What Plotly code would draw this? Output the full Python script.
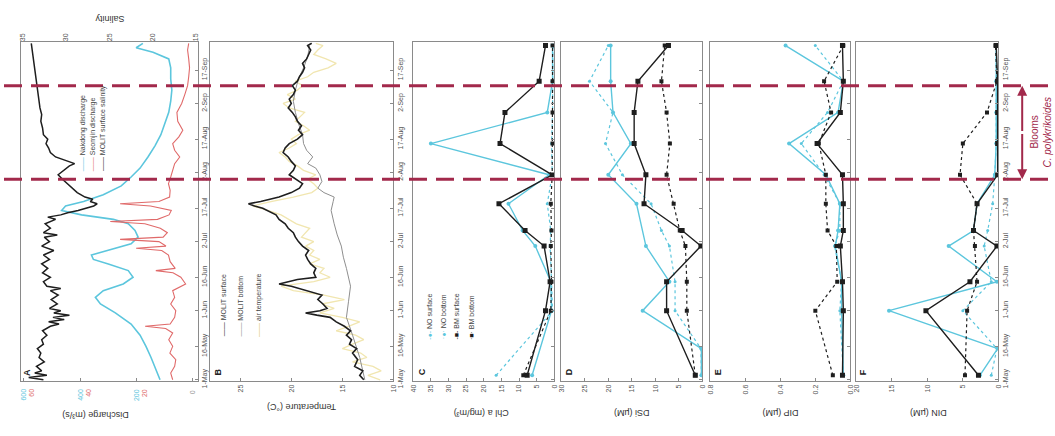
import pandas as pd
import plotly.graph_objects as go

W, H = 1055, 436
START = pd.Timestamp("2015-05-01")


def to_dates(days):
    return [START + pd.Timedelta(days=d) for d in days]


# ---------------- Panel A: river discharge and surface salinity ----------------
cyan_q_days = [0, 5, 10, 15, 20, 25, 30, 34, 37, 40, 43, 46, 49, 52, 54, 56, 58, 61, 64, 67,
               70, 72, 74, 76, 78, 80, 83, 87, 91, 95, 100, 105, 110, 115, 120, 125, 130, 135,
               140, 144, 147, 149, 151]
cyan_q = [116, 131, 148, 166, 187, 219, 275, 328, 346, 318, 247, 212, 229, 300, 353, 360, 300,
          219, 194, 205, 229, 282, 395, 466, 452, 388, 318, 254, 219, 187, 159, 134, 113, 99,
          85, 78, 74, 78, 78, 85, 141, 201, 177]

red_q_days = [0, 3, 6, 9, 12, 15, 18, 21, 23, 24, 25, 28, 31, 34, 37, 40, 43, 46, 48, 49, 50,
              53, 56, 58, 59, 60, 62, 63, 64, 66, 68, 70, 71, 72, 74, 76, 78, 79, 80, 82, 85,
              88, 91, 94, 97, 100, 103, 106, 109, 112, 116, 120, 124, 128, 132, 136, 140, 144,
              148, 151]
red_q = [7.1, 7.8, 6.4, 6.0, 8.1, 7.1, 8.5, 7.1, 9.6, 16.9, 8.0, 6.4, 6.0, 7.8, 6.4, 7.1, 2.5,
         4.2, 7.0, 13.1, 6.2, 8.0, 8.6, 11.0, 20.1, 9.5, 12.0, 25.8, 10.5, 9.0, 11.5, 17.0,
         29.3, 12.5, 8.4, 7.6, 15.0, 25.8, 12.0, 8.2, 8.0, 8.6, 7.8, 7.1, 6.4, 4.6, 6.4,
         7.1, 4.9, 3.5, 5.3, 5.6, 3.9, 2.8, 1.8, 1.4, 1.1, 1.4, 1.8, 1.4]

sal_days = [0, 1, 2, 3, 4, 6, 8, 10, 12, 14, 16, 18, 20, 22, 24, 25, 26, 27, 28, 29, 30, 31, 32,
            34, 36, 38, 40, 41, 42, 44, 46, 48, 50, 52, 54, 56, 58, 60, 62, 64, 65, 66, 68, 70,
            72, 73, 74, 75, 76, 77, 78, 79, 80, 81, 82, 84, 86, 88, 90, 92, 94, 96, 97, 98, 99,
            100, 102, 104, 106, 108, 110, 113, 116, 119, 122, 125, 128, 131, 134, 137, 140,
            143, 146, 149, 151]
salinity = [32.6, 34.3, 32.2, 33.6, 32.8, 33.4, 32.5, 33.1, 32.9, 33.3, 32.6, 32.8, 32.2, 32.7,
            31.8, 30.8, 32.0, 30.2, 31.5, 29.6, 31.4, 30.6, 31.9, 31.0, 31.7, 30.9, 31.8, 30.6,
            32.2, 32.6, 31.8, 32.7, 32.1, 32.8, 31.9, 32.6, 31.4, 32.8, 31.9, 32.5, 31.0, 32.6,
            31.8, 32.4, 31.2, 32.1, 30.6, 29.8, 28.6, 27.6, 26.8, 26.4, 27.2, 26.9, 27.8, 28.7,
            29.3, 29.8, 30.4, 30.9, 30.2, 29.6, 29.0, 29.8, 30.6, 31.2, 31.8, 32.0, 32.3, 32.1,
            32.6, 32.7, 32.9, 32.8, 33.0, 33.1, 33.2, 33.3, 33.4, 33.5, 33.6, 33.7, 33.8, 33.9,
            34.0]

cyan_q_ticks = [600, 400, 200]
red_q_ticks = [60, 40, 20]
salinity_ticks = [35, 30, 25, 20, 15]

# ---------------- Panel B: water and air temperature ----------------
ts_days = [0, 2, 4, 6, 9, 12, 14, 16, 18, 20, 22, 24, 26, 28, 29, 30, 31, 32, 34, 36, 38, 40,
           42, 43, 44, 45, 46, 48, 50, 52, 54, 56, 58, 60, 62, 64, 66, 68, 70, 72, 74, 76, 77,
           78, 79, 80, 81, 82, 84, 86, 88, 90, 92, 94, 96, 98, 100, 102, 104, 106, 108, 110,
           112, 114, 116, 118, 120, 122, 124, 126, 128, 130, 132, 134, 136, 138, 140, 142, 144,
           146, 148, 150, 151]
temp_surface = [12.9, 13.3, 13.0, 13.8, 13.5, 14.0, 13.6, 14.3, 14.1, 14.6, 14.2, 14.8, 15.6,
                16.2, 17.5, 18.6, 17.2, 16.5, 16.9, 17.4, 17.0, 18.4, 20.0, 21.2, 20.4, 19.4,
                17.6, 17.8, 17.6, 18.1, 18.4, 18.6, 18.3, 18.9, 19.3, 19.6, 19.8, 20.3, 20.6,
                21.2, 21.5, 22.3, 22.8, 23.6, 24.2, 23.0, 22.0, 21.2, 20.0, 19.2, 18.9, 19.5,
                20.2, 19.8, 19.6, 20.0, 20.3, 20.8, 20.6, 20.2, 19.4, 18.9, 19.3, 19.0, 19.4,
                19.6, 19.9, 20.3, 20.0, 20.2, 19.8, 19.6, 19.9, 19.4, 19.2, 18.9, 18.7, 18.9,
                18.5, 18.3, 18.1, 18.4, 18.0]

tb_days = [0, 10, 20, 28, 35, 42, 50, 55, 60, 65, 70, 76, 80, 82, 84, 86, 89, 92, 95, 97, 100,
           103, 106, 110, 115, 120, 125, 130, 135, 140, 145, 150]
temp_bottom = [12.8, 13.3, 14.0, 14.6, 14.4, 14.2, 14.6, 14.9, 15.1, 15.5, 15.8, 16.1, 15.9,
               15.8, 16.8, 17.4, 17.0, 17.2, 17.6, 18.4, 17.9, 18.5, 18.8, 18.9, 19.3, 19.6,
               19.8, 19.6, 19.3, 18.8, 18.4, 18.2]

ta_days = [0, 2, 4, 6, 8, 10, 12, 14, 16, 18, 20, 22, 24, 26, 28, 30, 32, 34, 36, 38, 40, 42,
           44, 46, 48, 50, 52, 54, 56, 58, 60, 62, 64, 66, 68, 70, 72, 74, 76, 78, 80, 82, 84,
           86, 88, 90, 92, 94, 96, 98, 100, 102, 104, 106, 108, 110, 112, 114, 116, 118, 120,
           122, 124, 126, 128, 130, 132, 134, 136, 138, 140, 142, 144, 146, 148, 150, 151]
temp_air = [11.3, 12.5, 11.2, 12.0, 14.0, 12.6, 13.2, 15.0, 14.0, 12.9, 13.7, 15.6, 14.4, 13.3,
            15.0, 17.2, 15.8, 17.0, 14.8, 16.8, 19.8, 21.0, 17.8, 16.2, 17.2, 16.8, 18.2, 17.2,
            18.2, 17.8, 18.6, 17.8, 19.0, 18.6, 18.2, 19.5, 20.2, 21.0, 22.3, 23.8, 22.0, 19.8,
            18.0, 17.4, 17.8, 18.4, 17.6, 18.8, 19.4, 20.2, 20.6, 21.2, 20.2, 19.5, 20.0, 19.3,
            18.2, 18.8, 19.6, 19.1, 18.7, 20.2, 20.8, 19.6, 20.4, 19.4, 18.9, 19.6, 18.4, 17.8,
            16.4, 15.6, 16.6, 17.8, 17.4, 16.9, 17.6]

temp_ticks = [25, 20, 15, 10]

# ---------------- Panels C-F: station samples ----------------
sample_days = [2, 14, 31, 44, 60, 67, 79, 92, 106, 120, 134, 150]

chl = {
    "NO surface": [6.3, None, 0.8, 1.0, 5.4, 9.0, 13.0, 1.5, 35.0, 2.0, 0.5, 0.5],
    "NO bottom": [16.5, None, 0.5, 0.8, 1.2, 1.0, 2.0, 0.6, 0.8, 0.5, 0.5, 0.4],
    "BM surface": [7.7, None, 2.5, 1.2, 2.9, 8.3, 15.7, 0.6, 15.4, 14.0, 4.3, 2.5],
    "BM bottom": [8.8, None, 1.0, 0.8, 1.0, 0.8, 1.0, 0.6, 0.5, 0.5, 0.5, 0.5],
}
dsi = {
    "NO surface": [0.2, 0.2, 12.7, 7.0, 12.0, None, 14.0, 20.0, 15.2, 19.0, 19.5, 19.5],
    "NO bottom": [0.2, 0.3, 5.8, 5.8, 7.0, 8.7, 10.9, 17.0, 20.6, 19.0, 24.0, 20.0],
    "BM surface": [1.5, None, 7.6, 7.6, 0.3, 4.3, 12.4, 12.0, 14.5, 14.5, 13.7, 7.2],
    "BM bottom": [1.5, None, 3.3, 3.3, 3.6, 4.8, 6.1, 7.6, 6.9, 7.6, 8.7, 8.0],
}
dip = {
    "NO surface": [0.04, None, 0.05, 0.05, 0.086, 0.07, 0.06, 0.14, 0.35, 0.07, 0.04, 0.37],
    "NO bottom": [0.04, None, 0.06, 0.05, 0.09, 0.06, 0.06, 0.15, 0.28, 0.13, 0.04, 0.2],
    "BM surface": [0.045, None, 0.04, 0.045, 0.057, 0.04, 0.04, 0.045, 0.19, 0.057, 0.04, 0.045],
    "BM bottom": [0.1, None, 0.2, 0.075, 0.08, 0.13, 0.14, 0.14, 0.18, 0.11, 0.15, 0.04],
}
din = {
    "NO surface": [2.6, 0.1, 15.4, 0.2, 7.0, 3.5, 3.0, 0.5, 0.3, 0.3, 0.3, 0.3],
    "NO bottom": [1.0, 0.2, 5.0, 1.0, 2.0, 1.5, 0.8, 0.5, 0.3, 0.3, 0.3, 0.3],
    "BM surface": [2.8, None, 10.2, 4.0, 0.2, 3.5, 3.0, 0.1, 0.1, 0.1, 0.1, 0.3],
    "BM bottom": [4.7, None, 4.4, 3.0, 3.3, 3.5, 3.0, 5.4, 5.0, 1.6, 0.2, 0.4],
}

date_ticks = ["2015-05-01", "2015-05-16", "2015-06-01", "2015-06-16", "2015-07-02",
              "2015-07-17", "2015-08-02", "2015-08-17", "2015-09-02", "2015-09-17"]
date_labels = ["1-May", "16-May", "1-Jun", "16-Jun", "2-Jul", "17-Jul", "2-Aug", "17-Aug",
               "2-Sep", "17-Sep"]
bloom_start, bloom_end = "2015-07-30", "2015-09-10"

# ---------------- styling ----------------
CYAN = "#5cc6dd"
RED = "#e06a6a"
BLACK = "#1e1e1e"
GRAY = "#8e8e8e"
YELLOW = "#f1e6b0"
DASH = "#a2294b"
TICKC = "#555555"
FONT = "Liberation Sans"

series_style = {
    "NO surface": dict(color=CYAN, dash="solid", symbol="circle", size=4, width=1.4),
    "NO bottom": dict(color=CYAN, dash="dot", symbol="circle", size=3, width=1.2),
    "BM surface": dict(color=BLACK, dash="solid", symbol="square", size=5, width=1.4),
    "BM bottom": dict(color=BLACK, dash="dot", symbol="square", size=4, width=1.2),
}


def px_x(p):
    return p / W


def px_y(p):
    return 1 - p / H


TOP, BOTTOM = 43, 388
ydom = [px_y(BOTTOM), px_y(TOP)]
domains = {
    1: [px_x(17), px_x(195)],
    2: [px_x(207), px_x(392)],
    3: [px_x(412), px_x(554)],
    4: [px_x(561), px_x(703)],
    5: [px_x(711), px_x(852)],
    6: [px_x(858), px_x(1001)],
}

fig = go.Figure()

# Panel A traces
fig.add_trace(go.Scatter(x=cyan_q, y=to_dates(cyan_q_days), mode="lines",
                         line=dict(color=CYAN, width=1.6), xaxis="x", yaxis="y"))
fig.add_trace(go.Scatter(x=red_q, y=to_dates(red_q_days), mode="lines",
                         line=dict(color=RED, width=1.1), xaxis="x7", yaxis="y"))
fig.add_trace(go.Scatter(x=salinity, y=to_dates(sal_days), mode="lines",
                         line=dict(color=BLACK, width=1.5), xaxis="x8", yaxis="y"))

# Panel B traces
fig.add_trace(go.Scatter(x=temp_air, y=to_dates(ta_days), mode="lines",
                         line=dict(color=YELLOW, width=1.3), xaxis="x2", yaxis="y2"))
fig.add_trace(go.Scatter(x=temp_bottom, y=to_dates(tb_days), mode="lines",
                         line=dict(color=GRAY, width=1), xaxis="x2", yaxis="y2"))
fig.add_trace(go.Scatter(x=temp_surface, y=to_dates(ts_days), mode="lines",
                         line=dict(color=BLACK, width=1.6), xaxis="x2", yaxis="y2"))

# Panels C-F traces
for k, data in zip([3, 4, 5, 6], [chl, dsi, dip, din]):
    for name in ["NO bottom", "NO surface", "BM bottom", "BM surface"]:
        st = series_style[name]
        fig.add_trace(go.Scatter(
            x=data[name], y=to_dates(sample_days), mode="lines+markers", connectgaps=True,
            line=dict(color=st["color"], dash=st["dash"], width=st["width"]),
            marker=dict(symbol=st["symbol"], size=st["size"], color=st["color"]),
            xaxis=f"x{k}", yaxis=f"y{k}"))

tickfont = dict(family=FONT, size=7, color=TICKC)
frame = dict(showline=True, linecolor="#8a8a8a", linewidth=1, mirror=True,
             showgrid=False, zeroline=False, ticks="inside", ticklen=3,
             tickcolor="#8a8a8a", tickfont=tickfont)

value_axes = {
    1: dict(range=[611, -18], tickvals=[0, 200, 400, 600], showticklabels=False),
    2: dict(range=[28, 10], tickvals=temp_ticks, tickangle=-90),
    3: dict(range=[40, 0], tickvals=list(range(0, 45, 5)), tickangle=-90),
    4: dict(range=[30, 0], tickvals=list(range(0, 35, 5)), tickangle=-90),
    5: dict(range=[0.8, 0], tickvals=[0, 0.2, 0.4, 0.6, 0.8], tickformat=".1f", tickangle=-90),
    6: dict(range=[20, 0], tickvals=[0, 5, 10, 15, 20], tickangle=-90),
}

yrange = [START - pd.Timedelta(hours=12), START + pd.Timedelta(days=151, hours=12)]
layout = dict(width=W, height=H, margin=dict(l=0, r=0, t=0, b=0),
              paper_bgcolor="white", plot_bgcolor="white", showlegend=False)

for k in range(1, 7):
    xs = "xaxis" if k == 1 else f"xaxis{k}"
    ys = "yaxis" if k == 1 else f"yaxis{k}"
    yid = "y" if k == 1 else f"y{k}"
    xid = "x" if k == 1 else f"x{k}"
    layout[xs] = dict(domain=domains[k], anchor=yid, **frame, **value_axes[k])
    yax = dict(domain=ydom, anchor=xid, side="right", tickvals=date_ticks,
               ticktext=date_labels, tickangle=-90, showticklabels=k in (1, 2, 6), **frame)
    if k == 1:
        yax["range"] = yrange
        yax["type"] = "date"
    else:
        yax["matches"] = "y"
    layout[ys] = yax

layout["xaxis7"] = dict(overlaying="x", anchor="y", range=[61.1, -1.8], visible=False)
layout["xaxis8"] = dict(overlaying="x", anchor="y", side="top", range=[35.2, 14.8],
                        tickvals=salinity_ticks, tickangle=-90, showline=False,
                        showgrid=False, zeroline=False, ticks="", tickfont=tickfont)
fig.update_layout(**layout)

# bloom period markers across all panels
for d in [bloom_start, bloom_end]:
    fig.add_shape(type="line", xref="paper", yref="y", x0=0, x1=1, y0=d, y1=d,
                  line=dict(color=DASH, width=3, dash="18px,9px"), layer="above")

ann = []


def text(x, y, s, angle=0, size=9, color="#333", xanchor="center", yanchor="middle", **kw):
    ann.append(dict(x=x, y=y, xref=kw.pop("xref", "paper"), yref=kw.pop("yref", "paper"),
                    text=s, showarrow=False, textangle=angle, xanchor=xanchor,
                    yanchor=yanchor, font=dict(family=FONT, size=size, color=color), **kw))


# discharge tick labels (two scales share the bottom axis)
for cv, rv in zip(cyan_q_ticks, red_q_ticks):
    text(cv, px_y(402), str(cv), angle=-90, size=7, color=CYAN, xref="x")
    text(cv, px_y(400), str(rv), angle=-90, size=7, color=RED, xref="x", xshift=8)
text(0, px_y(400), "0", angle=-90, size=7, color="#999", xref="x")

# axis titles (upside down)
text(px_x(92), px_y(423), "Discharge (m³/s)", angle=180, size=9)
text(px_x(106), px_y(20), "Salinity", angle=180, size=9)
text(px_x(300), px_y(414), "Temperature (°C)", angle=180, size=9)
text(px_x(480), px_y(420), "Chl a (mg/m³)", angle=180, size=9)
text(px_x(632), px_y(420), "DSi (µM)", angle=180, size=9)
text(px_x(782), px_y(420), "DIP (µM)", angle=180, size=9)
text(px_x(930), px_y(420), "DIN (µM)", angle=180, size=9)

# panel letters
for letter, xp in zip("ABCDEF", [23, 215, 421, 569, 719, 865]):
    text(px_x(xp), px_y(379), f"<b>{letter}</b>", angle=-90, size=9, color="#222")

# in-panel legends
def legend_entry(xp, yp, sym, label, color):
    text(px_x(xp), px_y(yp), f"<span style='color:{color}'>{sym}</span> {label}",
         angle=-90, size=7, color="#444", yanchor="bottom")


legend_entry(79, 176, "——", "Nakdong discharge", CYAN)
legend_entry(89, 176, "——", "Seomjin discharge", RED)
legend_entry(99, 176, "——", "MOLIT surface salinity", BLACK)

legend_entry(221, 345, "——", "MOLIT surface", BLACK)
legend_entry(238, 345, "——", "MOLIT bottom", GRAY)
legend_entry(256, 345, "——", "air temperature", "#d9c870")

legend_entry(428, 348, "-●-", "NO surface", CYAN)
legend_entry(442, 348, "·●·", "NO bottom", CYAN)
legend_entry(456, 348, "-■-", "BM surface", BLACK)
legend_entry(470, 348, "·■·", "BM bottom", BLACK)

# bloom period arrow and label
mid = "2015-08-20"
for end in [bloom_start, bloom_end]:
    ann.append(dict(x=px_x(1025), y=end, xref="paper", yref="y", ax=0, ay=mid,
                    axref="pixel", ayref="y", showarrow=True, arrowhead=2, arrowsize=1,
                    arrowwidth=2, arrowcolor=DASH, text=""))
text(px_x(1037), mid, "Blooms", angle=-90, size=10, color=DASH, yref="y")
text(px_x(1050), mid, "<i>C. polykrikoides</i>", angle=-90, size=10, color=DASH, yref="y")

fig.update_layout(annotations=ann)
fig.write_html("out.html")
